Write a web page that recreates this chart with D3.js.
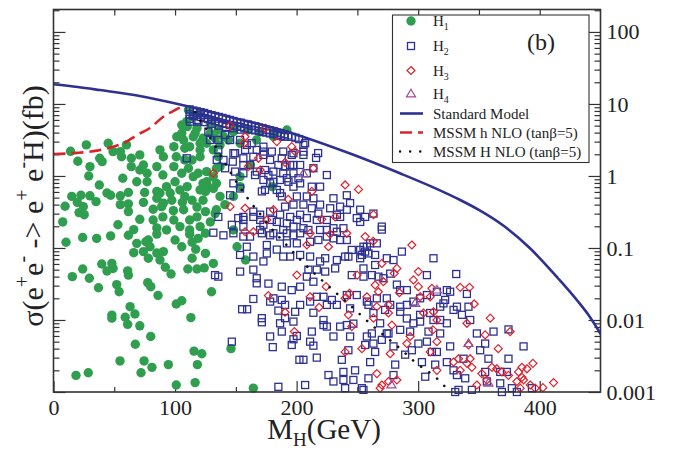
<!DOCTYPE html>
<html><head><meta charset="utf-8">
<script src="https://cdn.jsdelivr.net/npm/d3@7"></script>
<style>
body{margin:0;background:#fff;}
svg{display:block;font-family:"Liberation Serif","Times New Roman",serif;}
</style></head><body>
<svg id="chart" width="678" height="453"></svg>
<script>
// Axis ticks and labels
const massTicks = [0, 100, 200, 300, 400];
const massLabels = ["0", "100", "200", "300", "400"];
const massMinorTicks = [50, 150, 250, 350];
const massTopTicks = [50, 100, 150, 200, 250, 300, 350, 400];
const sigmaTicks = [0.001, 0.01, 0.1, 1, 10, 100];
const sigmaLabels = ["0.001", "0.01", "0.1", "1", "10", "100"];

// Curves: [M_H (GeV), sigma (fb)]
const smCurve = [[0,18.8],[20,17.2],[38,15.6],[71,12.9],[105.5,9.7],[150,6.3],[192,4.12],[244,2.05],[285,1.09],[312,0.70],[335,0.46],[351,0.33],[370,0.205],[392,0.099],[415,0.038],[431,0.0185],[440,0.0118],[450.6,0.0062]];
const mssmLightCurve = [[0,2.02],[19.3,2.09],[35.8,2.25],[49,2.55],[58.8,2.92],[68.7,3.71],[79.4,4.64],[90.1,6.6],[100,8.25],[107,9.4]];
const mssmHeavyCurve = [[116.5,7.7],[120.6,5.9],[125.5,4.6],[128.8,3.4],[132.7,2.7],[137,2.0],[141,1.53],[145.3,1.15],[149.4,0.88],[154,0.67],[159,0.51],[163.6,0.40],[168.6,0.32],[173.5,0.245],[178.8,0.19],[184,0.152],[195,0.096],[206.4,0.06],[218.3,0.039],[230.3,0.0256],[242.4,0.017],[254.5,0.011],[266,0.0074],[285.2,0.004],[297.5,0.0026],[316.2,0.0015],[322.2,0.00118]];

// Scan points: [M (GeV), sigma (fb)]
const h1Points = [[14,2.2],[27,2.7],[20,1.6],[30,1.35],[29,1.0],[38,1.76],[45,2.85],[49,2.18],[56,1.85],[64,1.76],[64,1.35],[71,1.21],[77,1.09],[57,0.93],[68.5,0.83],[77,0.83],[90,1.03],[99,1.35],[101,1.85],[108,2.43],[114,1.67],[99,2.55],[105.5,3.92],[110,4.84],[116.5,3.92],[123,3.34],[112,2.55],[120.6,2.3],[126,2.85],[131.5,2.3],[135.6,1.85],[137,1.35],[131.5,0.98],[126,0.75],[119,1.09],[110,0.71],[93,0.71],[85,0.61],[44,0.58],[30,0.53],[15,0.52],
[40,1.58],[55,2.18],[60,2.7],[71,1.96],[74,1.42],[87.6,2.3],[90.4,1.85],[85,1.35],[101.4,3.51],[105.5,5.1],[107,3.16],[115,3.51],[118,4.6],[120.6,2.85],[129,3.92],[133,3.34],[137,2.7],[140,3.51],[144,3.16],[148,4.12],[135.6,4.35],[120.6,1.85],[108,1.67],[111,1.28],[105.5,1.09],[100,0.83],[104,0.64],[108,0.52],[115,0.98],[126,0.83],[134,0.79],[131.5,0.67],[125,0.61],[120.6,0.64],[114,0.46],[123,0.46],[137,0.52],[141,0.40],[134,0.34],[125,0.32],[118,0.27],[112,0.245],[112,0.178],[104,0.198],[120.6,0.198],[129,0.23],[153.5,0.71],[153.5,0.98],[153.5,2.85],[167,3.16],[181,3.51],[192,4.35],
[126,1.15],[134,1.28],[123,0.79],[148,0.52],[162,1.42],[180,0.71],[133,0.30],[125,0.16],[151,0.104],[148,0.178],[125,0.084],[131.5,0.061],[158,0.068],[124,0.053],[130,0.0247],
[37.7,0.75],[22.6,0.54],[47,0.54],[55,0.53],[61.6,0.59],[75,0.59],[87.6,0.58],[96,0.58],[9.5,0.38],[19.6,0.43],[35,0.44],[55,0.40],[61.6,0.41],[74,0.43],[85,0.49],[90.4,0.42],[97.3,0.46],[106,0.43],[24.5,0.375],[21,0.31],[25.3,0.29],[61.6,0.32],[82,0.345],[89,0.375],[98.6,0.33],[107,0.34],[118,0.37],[99,0.245],[90,0.27],[71,0.25],[7.6,0.23],[53,0.21],[82,0.245],[85,0.19],[93,0.178],[66,0.18],[61.6,0.15],[47,0.147],[35.5,0.136],[24,0.14],[10.3,0.12],[68.5,0.116],[76,0.122],[85,0.156],[100,0.129],[112,0.155],[119,0.136],[114,0.12],[105.5,0.104],[117,0.096],[78,0.129],[66,0.086],[74,0.089],[79.4,0.104],[85,0.085],[90.4,0.089],[87.6,0.068],[78,0.072],[114,0.072],[92,0.054],[110.5,0.051],[118,0.051],[96.7,0.0435],[39.7,0.06],[48,0.061],[49,0.052],[44,0.048],[24,0.051],[61,0.048],[61.6,0.042],[15.5,0.04],[29.5,0.038],[52,0.031],[54,0.0247],[77.5,0.033],[80,0.029],[37,0.028],[86,0.022],[63,0.0153],
[18.5,0.0017],[28.6,0.00185],[48,0.0117],[48,0.0106],[59,0.0109],[67,0.0121],[61,0.0087],[71,0.0083],[80,0.0059],[67.3,0.0046],[54.7,0.0027],[74.5,0.0027],[81,0.0022],[72,0.00185],[94.5,0.0024],[101,0.0167],[105.5,0.0185],[113,0.0108],[115.6,0.0037],[122,0.0034],[118.4,0.0024],[101,0.00125],[116.5,0.00135],[146,0.004],[164.4,0.00113],
[111,8.25],[114.6,6.66],[109.6,5.68],[120.6,7.43],[129,5.27],[149.4,4.79],[170,4.08],[182.3,3.96],[160,4.35]];

const h2Points = [[112,8.4],[112,7.2],[112,6.2],[115,8.1],[115,6.8],[118,7.9],[118,7.0],[118,6.0],[121,7.7],[121,6.6],[124,7.5],[124,6.4],[124,5.6],[127,7.2],[127,6.2],[130,7.0],[130,6.0],[130,5.3],[133,6.8],[133,5.8],[136,6.6],[136,5.6],[136,5.0],[139,6.4],[139,5.4],[142,6.2],[142,5.3],[142,4.8],[145,6.0],[145,5.1],[148,5.8],[148,5.0],[148,4.6],[151,5.6],[151,4.9],[154,5.5],[154,4.8],[154,4.4],[157,5.3],[157,4.6],[160,5.2],[160,4.5],[163,5.0],[163,4.4],[166,4.9],[166,4.3],[169,4.7],[169,4.2],[172,4.6],[172,4.1],[175,4.4],[175,4.0],[178,4.3],[178,3.9],[181,4.2],[181,3.8],[184,4.0],[184,3.7],[187,3.9],[187,3.6],[190,3.8],[190,3.5],[193,3.65],[196,3.5],[199,3.4],[202,3.25],
[112.3,5.68],[119.2,5.68],[127.4,4.12],[128.8,3.16],[135.6,3.16],[141.2,3.71],[145.3,3.16],[153.5,3.16],[159,2.7],[163,2.85],[172.7,2.55],[179.6,2.18],[189,2.18],[196,1.96],[205.6,2.7],[213.8,1.28],[224.9,1.03],[109.6,1.76],[135.6,2.3],[139.8,1.67],[148,2.07],[147.5,1.58],[157.6,2.3],[156.2,1.76],[164.4,1.85],[167.2,2.3],[172.7,1.96],[178.2,1.67],[187.8,1.76],[190.5,1.35],[185,1.42],[180.9,1.15],[197.4,1.42],[202.9,1.42],[208.4,1.09],[134.3,1.67],[141.2,1.28],[149.4,1.15],[161.7,1.42],[167.2,1.15],[174,1.21],[172.7,0.88],[180.9,0.83],[186.4,0.88],[192,0.93],[174,0.64],[183.7,0.64],[187.8,0.52],[197.4,0.71],[202.9,0.79],[200.2,0.52],[208.4,0.52],[213.8,0.49],[219.3,0.71],[230.3,0.49],[235.8,0.375],[241.3,0.34],[227.6,0.356],[219.3,0.40],[212.5,0.356],[205.6,0.40],[197.4,0.40],[190.5,0.375],[156.2,0.27],[164.4,0.32],[170,0.245],[178.2,0.32],[186.4,0.29],[192,0.22],[200.2,0.245],[208.4,0.26],[216.6,0.245],[224.9,0.245],[233.1,0.29],[238.5,0.188],[230.3,0.188],[219.3,0.178],[205.6,0.188],[197.4,0.198],[189,0.178],[180.9,0.16],[170,0.178],[156.2,0.198],[148,0.16],[139.8,0.15],[131.5,0.163],
[241.3,0.54],[244,0.42],[235.8,0.27],[252.3,0.34],[252.3,0.23],[249.5,0.26],[263.2,0.30],[270.1,0.198],[270.1,0.18],[241.3,0.129],[235.8,0.129],[245.4,0.094],[252.3,0.094],[255,0.104],[257.8,0.104],[259.1,0.084],[253.7,0.08],[239.9,0.076],[242.6,0.076],[233.1,0.068],[223.5,0.072],[219.3,0.065],[211.1,0.076],[202.9,0.08],[194.7,0.076],[189,0.076],[175.5,0.084],[172.7,0.065],[164.4,0.076],[153.5,0.08],[159,0.104],[175.5,0.11],[183.7,0.095],[192,0.116],[200.2,0.116],[211.1,0.122],[217.9,0.129],[224.9,0.144],[230.3,0.136],[233.1,0.168],[224.9,0.178],[209.7,0.178],[202.9,0.16],[197.4,0.15],[192,0.16],[186.4,0.144],[178.2,0.15],[171.4,0.16],[161.7,0.144],[156.2,0.144],
[135.6,0.04],[153.5,0.047],[164.4,0.05],[176.8,0.032],[167.2,0.038],[187.8,0.029],[196,0.026],[202.9,0.029],[208.4,0.04],[209.7,0.05],[216.6,0.05],[223.5,0.047],[231.7,0.052],[245.4,0.042],[255,0.04],[261.9,0.042],[271.4,0.038],[282.5,0.031],[277,0.044],[279.7,0.068],[274.2,0.072],[286.6,0.089],[307.2,0.042],[312.6,0.072],[323.6,0.026],[315.4,0.0247],[307.2,0.0222],[290.7,0.026],[296.1,0.018],[285.2,0.0153],[277,0.0162],[274.2,0.02],[266,0.02],[257.8,0.018],[249.5,0.0222],[241.3,0.0222],[233.1,0.0162],[229,0.019],[222.1,0.021],[216.6,0.021],[211.1,0.018],[202.9,0.0162],[198.8,0.013],[190.5,0.0162],[187.8,0.019],[178.2,0.018],[164.4,0.0196],[155.2,0.0141],[159.3,0.0141],[171.4,0.0106],[171.4,0.0093],[186.4,0.009],[197.4,0.0095],[212.5,0.0069],[211.1,0.005],[222.1,0.01],[224.9,0.0081],[230.3,0.0059],[241.3,0.0085],[246.7,0.0089],[244,0.0059],[257.8,0.0059],[263.2,0.0047],[274.2,0.0065],[285.2,0.0073],[296.1,0.009],[301.6,0.0118],[309.9,0.0125],[312.6,0.01],[318.1,0.0153],[323.6,0.009],[187.8,0.0069],[178.2,0.0059],[196,0.0045],[146.7,0.005],[132.9,0.042],
[148,0.79],[153.5,0.67],[145.3,0.54],[156.2,0.245],[146.7,0.21],[164.4,0.27],[172.7,0.21],[183.7,0.23],[149.4,2.07],[172.7,2.18],[197.4,2.07],[205.6,2.18],[205.6,1.96],[156.2,1.42],[194.7,1.42],[156.2,1.09],[165.8,1.03],[176.8,1.03],[189,1.09],[197.4,1.09],[201.5,0.93],[193.3,0.83],[178.2,0.79],[171.4,0.61],[186.4,0.58],[217.9,0.3],[202.9,0.29],[194.7,0.27],[179.6,0.245],[170,0.29],[152,0.26],[135.6,0.27],
[256.4,0.27],[266,0.116],[260.5,0.116],[256.4,0.089],[252.3,0.072],[255,0.052],[264.6,0.08],[264.6,0.058],[267.3,0.04],[285.2,0.026],[331.3,0.0435],[326.3,0.0247],[340.1,0.023],[322.2,0.019],[320.8,0.017],[301.6,0.02],[290.7,0.0162],[259.1,0.0162],[341.4,0.0153],[331.9,0.0153],
[213.8,0.0126],[205.6,0.0028],[207,0.00125],[224.9,0.0162],[222.1,0.0085],[235.8,0.0081],[244,0.0145],[242.6,0.0038],[237.2,0.0028],[238.5,0.0019],[238.5,0.00147],[239.9,0.00113],[248.1,0.002],[246.7,0.00147],[255,0.00107],[259.1,0.00155],[260.5,0.0026],[256.4,0.0045],[261.9,0.0065],[268.7,0.009],[270.1,0.0053],[264.6,0.0036],[275.6,0.0065],[279.7,0.0043],[281.1,0.0024],[279.7,0.00172],[289.3,0.0033],[290.7,0.0105],[285.2,0.013],[294.8,0.0038],[300.2,0.0047],[303.1,0.0026],[305.8,0.00163],[301.6,0.0095],[308.5,0.0069],[307.2,0.005],[311.3,0.0036],[315.4,0.0036],[314,0.0024],[318.1,0.0065],[318.1,0.01],[326.3,0.0043],[329.1,0.002],[330.5,0.001],[333.2,0.00107],[336,0.0118],[337.3,0.0029],[342.8,0.01],[344.2,0.00107],[329.1,0.0138],[348.3,0.0065],[351,0.0038],[355.1,0.0047],[355.1,0.0019],[357.8,0.0029],[362,0.0069],[367.5,0.00132],[367.5,0.0019],[368.9,0.001],[373,0.0019],[374.3,0.0074],[374.3,0.0029],[377.1,0.00113],[386.7,0.0043],[393.6,0.00113],[381.2,0.001],[338.7,0.00155],[331.9,0.00172],[323.6,0.0026],[356.5,0.0014],[272.8,0.0138],[293.4,0.0069],[263.2,0.0125],[253.7,0.00113],
[167.2,0.0323],[213.8,0.034],[180.9,0.02],[185,0.0135],[190.5,0.0106],[200.2,0.006],[180.4,0.0042],[213.8,0.0044],[202.3,0.0028],[216.6,0.003],[226.2,0.00172],[230.3,0.0014],[185,0.00118],[197.4,0.0054],
[207,2.85],[212.5,0.71],[217.7,2.08],[216,1.78]];

const h3Points = [[145.3,5.0],[157.6,3.51],[156.8,2.85],[183.7,3.0],[196,2.55],[198.8,2.18],[168.6,1.76],[160.3,1.35],[131.5,1.09],[170,1.21],[190.5,1.54],[213.8,1.28],[212.5,0.61],[193,0.475],[239.9,0.75],[250.9,0.65],[145.3,0.375],[157.6,0.356],[180.9,0.34],[175.5,0.245],[231.7,0.27],[220.7,0.25],[157.6,0.168],[164.4,0.168],[211.1,0.16],[227.6,0.156],[241.3,0.16],[174.1,4.6],
[263.2,0.29],[256.4,0.144],[263,0.124],[208.4,0.11],[226.2,0.104],[294.8,0.11],[270.1,0.061],[282.5,0.052],[280.3,0.0445],[200.2,0.042],[249.8,0.042],[264.6,0.0306],[271.4,0.034],[267.3,0.0247],[300.2,0.047],[296.1,0.036],[300.2,0.029],[311.3,0.0275],[301.6,0.021],[309.9,0.021],[176.8,0.0218],[211.1,0.021],[218.5,0.015],[224.3,0.029],[239.9,0.02],[243.5,0.0235],[257.8,0.021],[266,0.0153],[275.6,0.0162],[284.6,0.0239],[242.6,0.0118],[245.4,0.0081],[263.2,0.0106],[278.4,0.0085],[293.4,0.0059],[290.7,0.0047],[312.1,0.0073],[315.4,0.01],[315.4,0.005],[190.5,0.0128],[198.2,0.0069],[253.7,0.0040],[312.6,0.013],[334.6,0.0284],[342.2,0.0284],[346.1,0.0167],
[239.9,0.0036],[266,0.0018],[268.7,0.00113],[270.1,0.00125],[275.6,0.0014],[277,0.0034],[275.6,0.0125],[282.5,0.00147],[304.4,0.0125],[309.9,0.0036],[315.4,0.002],[329.1,0.0026],[333.2,0.0029],[334.6,0.002],[340.1,0.009],[341.4,0.0045],[340.1,0.0025],[342.8,0.0029],[344.2,0.0022],[348.3,0.00125],[352.4,0.0018],[356.5,0.00147],[355.1,0.0062],[359.3,0.0106],[360.7,0.0022],[364.6,0.0021],[365.9,0.004],[368.9,0.0019],[374.3,0.0017],[375.7,0.0069],[381.2,0.0014],[382.6,0.0019],[385.4,0.0016],[386.7,0.00147],[384,0.00113],[385.4,0.0022],[389.5,0.0021],[392.2,0.00125],[394.4,0.0025],[396.3,0.00113],[402.6,0.00115],[411.4,0.00135]];

const h4Points = [[205.6,1.07],[315.4,0.026],[297.5,0.017],[341.4,0.0047],[278,0.00125],[357.8,0.00132]];

const colors = {h1:"#2f9e4f", h2:"#2d3193", h3:"#e0212b", h4:"#9b4d9b", sm:"#2e3192", light:"#d7262b", heavy:"#111", axis:"#333"};

const svg = d3.select("#chart");
const x = d3.scaleLinear().domain([0, 450]).range([53.5, 600.5]);
const y = d3.scaleLog().domain([0.001, 205]).range([392, 9.5]);
const plotLeft = 53.5, plotRight = 600.5, plotTop = 9.5, plotBottom = 392;

svg.append("defs").append("clipPath").attr("id", "plotClip")
  .append("rect").attr("x", plotLeft).attr("y", plotTop).attr("width", plotRight - plotLeft).attr("height", plotBottom - plotTop);

// Minor log ticks between decades
const sigmaMinor = [];
for (let e = -3; e <= 2; e++) for (let m = 2; m <= 9; m++) { const v = m * Math.pow(10, e); if (v < 205) sigmaMinor.push(v); }

function styleAxis(g) {
  g.select(".domain").remove();
  g.selectAll(".tick line").attr("stroke", colors.axis).attr("stroke-width", 1.2);
  g.selectAll("text").attr("fill", "#222").attr("font-size", 22).attr("font-family", "'Liberation Serif','Times New Roman',serif");
}

svg.append("g").attr("transform", `translate(0,${plotBottom})`)
  .call(d3.axisBottom(x).tickValues(massTicks).tickFormat((d, i) => massLabels[i]).tickSizeInner(-11).tickSizeOuter(0).tickPadding(7)).call(styleAxis);
svg.append("g").attr("transform", `translate(0,${plotBottom})`)
  .call(d3.axisBottom(x).tickValues(massMinorTicks).tickFormat("").tickSizeInner(-5).tickSizeOuter(0)).call(styleAxis);
svg.append("g").attr("transform", `translate(0,${plotTop})`)
  .call(d3.axisTop(x).tickValues(massTopTicks).tickFormat("").tickSizeInner(-6).tickSizeOuter(0)).call(styleAxis);
svg.append("g").attr("transform", `translate(${plotLeft},0)`)
  .call(d3.axisLeft(y).tickValues(sigmaTicks).tickFormat("").tickSizeInner(-12).tickSizeOuter(0)).call(styleAxis);
svg.append("g").attr("transform", `translate(${plotLeft},0)`)
  .call(d3.axisLeft(y).tickValues(sigmaMinor).tickFormat("").tickSizeInner(-6).tickSizeOuter(0)).call(styleAxis);
svg.append("g").attr("transform", `translate(${plotRight},0)`)
  .call(d3.axisRight(y).tickValues(sigmaTicks).tickFormat((d, i) => sigmaLabels[i]).tickSizeInner(-12).tickSizeOuter(0).tickPadding(6)).call(styleAxis);
svg.append("g").attr("transform", `translate(${plotRight},0)`)
  .call(d3.axisRight(y).tickValues(sigmaMinor).tickFormat("").tickSizeInner(-6).tickSizeOuter(0)).call(styleAxis);

// Scan points
const circleR = 4.7, squareHalf = 3.5, diamondR = 4.0, triangleR = 4.8;
const pts = svg.append("g");
pts.selectAll("circle.h1").data(h1Points).join("circle").attr("class", "h1")
  .attr("cx", d => x(d[0])).attr("cy", d => y(d[1])).attr("r", circleR).attr("fill", colors.h1);
pts.selectAll("rect.h2").data(h2Points).join("rect").attr("class", "h2")
  .attr("x", d => x(d[0]) - squareHalf).attr("y", d => y(d[1]) - squareHalf).attr("width", 2 * squareHalf).attr("height", 2 * squareHalf)
  .attr("fill", "none").attr("stroke", colors.h2).attr("stroke-width", 1.3);
const diamond = (cx, cy, r) => `M${cx},${cy - r}L${cx + r},${cy}L${cx},${cy + r}L${cx - r},${cy}Z`;
const triangle = (cx, cy, r) => `M${cx},${cy - r}L${cx + r * 0.95},${cy + r * 0.6}L${cx - r * 0.95},${cy + r * 0.6}Z`;
pts.selectAll("path.h3").data(h3Points).join("path").attr("class", "h3")
  .attr("d", d => diamond(x(d[0]), y(d[1]), diamondR)).attr("fill", "none").attr("stroke", colors.h3).attr("stroke-width", 1.2);
pts.selectAll("path.h4").data(h4Points).join("path").attr("class", "h4")
  .attr("d", d => triangle(x(d[0]), y(d[1]), triangleR)).attr("fill", "none").attr("stroke", colors.h4).attr("stroke-width", 1.2);

// Curves
const line = d3.line().x(d => x(d[0])).y(d => y(d[1])).curve(d3.curveMonotoneX);
const curves = svg.append("g").attr("clip-path", "url(#plotClip)");
curves.append("path").attr("d", line(smCurve)).attr("fill", "none").attr("stroke", colors.sm).attr("stroke-width", 2.6);
curves.append("path").attr("d", line(mssmLightCurve)).attr("fill", "none").attr("stroke", colors.light).attr("stroke-width", 2.6).attr("stroke-dasharray", "12,6");
curves.append("path").attr("d", line(mssmHeavyCurve)).attr("fill", "none").attr("stroke", colors.heavy).attr("stroke-width", 2.6)
  .attr("stroke-linecap", "round").attr("stroke-dasharray", "0.1,10");

// Frame
svg.append("rect").attr("x", plotLeft).attr("y", plotTop).attr("width", plotRight - plotLeft).attr("height", plotBottom - plotTop)
  .attr("fill", "none").attr("stroke", colors.axis).attr("stroke-width", 1.6);

// Legend
const leg = svg.append("g");
leg.append("rect").attr("x", 392.5).attr("y", 15).attr("width", 196.5).attr("height", 147.5)
  .attr("fill", "#fff").attr("stroke", colors.axis).attr("stroke-width", 1.1);
const symX = 411, txtX = 433;
const hRows = [{n: "1", y: 21}, {n: "2", y: 46}, {n: "3", y: 70.5}, {n: "4", y: 94}];
leg.append("circle").attr("cx", symX).attr("cy", hRows[0].y).attr("r", circleR).attr("fill", colors.h1);
leg.append("rect").attr("x", symX - squareHalf).attr("y", hRows[1].y - squareHalf).attr("width", 2 * squareHalf).attr("height", 2 * squareHalf)
  .attr("fill", "none").attr("stroke", colors.h2).attr("stroke-width", 1.3);
leg.append("path").attr("d", diamond(symX, hRows[2].y, diamondR)).attr("fill", "none").attr("stroke", colors.h3).attr("stroke-width", 1.2);
leg.append("path").attr("d", triangle(symX, hRows[3].y, triangleR)).attr("fill", "none").attr("stroke", colors.h4).attr("stroke-width", 1.2);
hRows.forEach(r => {
  const t = leg.append("text").attr("x", txtX).attr("y", r.y + 5).attr("font-size", 15).attr("fill", "#222");
  t.append("tspan").text("H");
  t.append("tspan").attr("font-size", 10).attr("dy", 4).text(r.n);
});
const lineRows = [
  {label: "Standard Model", y: 113.5, color: colors.sm, dash: null, w: 2.6, cap: "butt"},
  {label: "MSSM h NLO (tan\u03b2=5)", y: 132.5, color: colors.light, dash: "12,6", w: 2.6, cap: "butt"},
  {label: "MSSM H NLO (tan\u03b2=5)", y: 151.5, color: colors.heavy, dash: "0.1,10", w: 2.4, cap: "round"}
];
lineRows.forEach(r => {
  leg.append("line").attr("x1", 400).attr("x2", 423).attr("y1", r.y).attr("y2", r.y)
    .attr("stroke", r.color).attr("stroke-width", r.w).attr("stroke-dasharray", r.dash).attr("stroke-linecap", r.cap);
  leg.append("text").attr("x", txtX).attr("y", r.y + 5).attr("font-size", 15).attr("fill", "#222").text(r.label);
});
leg.append("text").attr("x", 527).attr("y", 50).attr("font-size", 24).attr("fill", "#222").text("(b)");

// Axis titles
const xt = svg.append("text").attr("x", 324).attr("y", 439).attr("text-anchor", "middle").attr("font-size", 29).attr("fill", "#222");
xt.append("tspan").text("M");
xt.append("tspan").attr("font-size", 19).attr("dy", 7).text("H");
xt.append("tspan").attr("dy", -7).text("(GeV)");

const yt = svg.append("text").attr("transform", "translate(43,206) rotate(-90)").attr("text-anchor", "middle")
  .attr("font-size", 30).attr("fill", "#222");
const yParts = [["\u03c3(e", 0], ["+", 1], ["e", 0], ["-", 1], [" -> e", 0], ["+", 1], [" e", 0], ["-", 1], ["H)(fb)", 0]];
let raised = false;
yParts.forEach(([txt, sup]) => {
  const ts = yt.append("tspan").text(txt);
  if (sup) { ts.attr("font-size", 20); if (!raised) { ts.attr("dy", -14); raised = true; } }
  else if (raised) { ts.attr("dy", 14); raised = false; }
});
</script>
</body></html>
